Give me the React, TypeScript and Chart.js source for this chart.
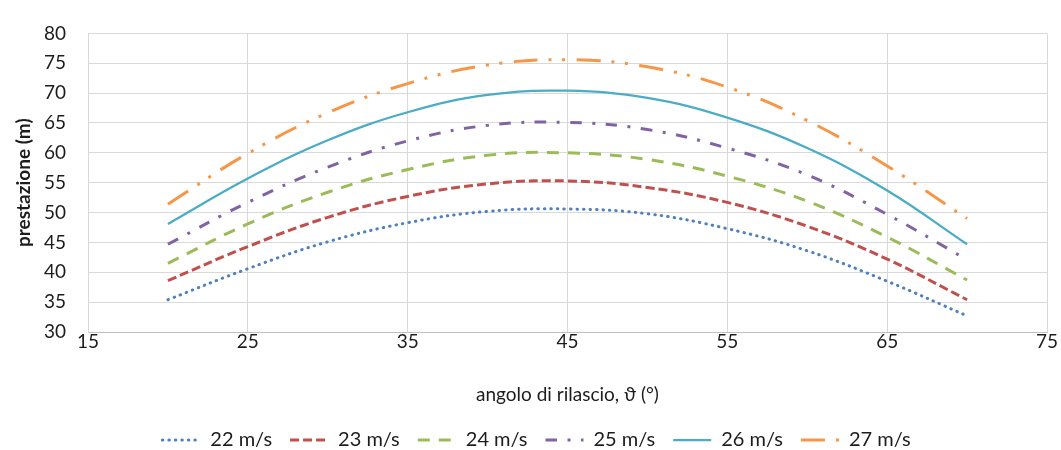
import React, { useEffect, useRef } from 'react';
import { Chart, registerables } from 'chart.js';

Chart.register(...registerables);

// Release angle (degrees)
const angles = [20, 25, 30, 35, 40, 45, 50, 55, 60, 65, 70];

// Performance (m) for each release speed
const perf22 = [35.4, 40.6, 45.1, 48.3, 50.2, 50.6, 49.8, 47.3, 43.6, 38.5, 32.7];
const perf23 = [38.6, 44.3, 49.2, 52.7, 54.8, 55.3, 54.2, 51.7, 47.7, 42.2, 35.4];
const perf24 = [41.5, 48.1, 53.4, 57.2, 59.6, 60.0, 58.9, 56.1, 51.9, 45.9, 38.7];
const perf25 = [44.7, 51.7, 57.6, 62.0, 64.6, 65.1, 63.9, 60.8, 56.3, 49.7, 42.1];
const perf26 = [48.1, 55.7, 62.1, 66.8, 69.7, 70.4, 69.2, 65.9, 60.8, 53.7, 44.7];
const perf27 = [51.4, 59.9, 66.7, 71.6, 74.7, 75.6, 74.4, 71.0, 65.4, 57.8, 49.0];

const seriesLabels = ['22 m/s', '23 m/s', '24 m/s', '25 m/s', '26 m/s', '27 m/s'];
const seriesValues = [perf22, perf23, perf24, perf25, perf26, perf27];

const xTicks = [15, 25, 35, 45, 55, 65, 75];
const yTicks = [30, 35, 40, 45, 50, 55, 60, 65, 70, 75, 80];

const xTitle = 'angolo di rilascio, \u03D1 (\u00B0)';
const yTitle = 'prestazione (m)';

// Styles
const colors = ['#4F81BD', '#C0504D', '#9BBB59', '#8064A2', '#4BACC6', '#F79646'];
const widths = [3, 3, 3, 3, 2.25, 3];
const dashes: number[][] = [
  [0.5, 6],
  [9, 4],
  [12, 9],
  [11.5, 10.5, 3, 10.5],
  [],
  [24, 11, 3, 10.5, 3, 11.5],
];
const caps = ['round', 'butt', 'butt', 'butt', 'butt', 'butt'];

const FONT = 'Lato, "Noto Sans", "DejaVu Sans", sans-serif';
const TEXT = '#1c1c1c';
const GRID = '#D9D9D9';

const legendShift = {
  id: 'legendShift',
  afterLayout(chart: any) {
    const l = chart.legend;
    if (!l) return;
    l.top += 10;
    l.bottom += 10;
    l.left += 13;
    l.right += 13;
  },
};

export default function App() {
  const ref = useRef<HTMLCanvasElement | null>(null);

  useEffect(() => {
    if (!ref.current) return;
    const datasets = seriesLabels.map((label, i) => ({
      label,
      data: angles.map((a, j) => ({ x: a, y: seriesValues[i][j] })),
      borderColor: colors[i],
      backgroundColor: colors[i],
      borderWidth: widths[i],
      borderDash: dashes[i],
      borderCapStyle: caps[i],
      pointRadius: 0,
      pointHoverRadius: 0,
      tension: 0.4,
      fill: false,
    }));

    const chart = new Chart(ref.current, {
      type: 'line',
      data: { datasets },
      plugins: [legendShift],
      options: {
        animation: false,
        responsive: true,
        maintainAspectRatio: false,
        layout: { padding: { top: 21, right: 14, bottom: 0, left: 0 } },
        font: { family: FONT },
        plugins: {
          tooltip: { enabled: false },
          legend: {
            position: 'bottom',
            labels: {
              usePointStyle: true,
              pointStyleWidth: 38,
              padding: 18,
              color: TEXT,
              font: { family: FONT, size: 20 },
              generateLabels: (ch: any) =>
                ch.data.datasets.map((ds: any, i: number) => ({
                  text: ds.label,
                  fillStyle: 'rgba(0,0,0,0)',
                  strokeStyle: colors[i],
                  lineWidth: widths[i],
                  lineDash: dashes[i],
                  lineCap: caps[i],
                  pointStyle: 'line',
                  rotation: 180,
                  fontColor: TEXT,
                  hidden: false,
                  datasetIndex: i,
                })),
            },
          },
        },
        scales: {
          x: {
            type: 'linear',
            min: 15,
            max: 75,
            afterBuildTicks: (s: any) => {
              s.ticks = xTicks.map((v) => ({ value: v }));
            },
            afterFit: (s: any) => {
              s.height = 70;
            },
            grid: { color: GRID, lineWidth: 1, drawTicks: false },
            border: { display: true, color: '#BFBFBF', width: 1 },
            ticks: {
              padding: -2,
              color: TEXT,
              font: { family: FONT, size: 19 },
              maxRotation: 0,
            },
            title: {
              display: true,
              text: xTitle,
              color: TEXT,
              font: { family: FONT, size: 19 },
              padding: { top: 0, bottom: -4 },
            },
          },
          y: {
            type: 'linear',
            min: 30,
            max: 80,
            afterBuildTicks: (s: any) => {
              s.ticks = yTicks.map((v) => ({ value: v }));
            },
            afterFit: (s: any) => {
              s.width = 88;
            },
            grid: { color: GRID, lineWidth: 1, drawTicks: false },
            border: { display: true, color: GRID, width: 1 },
            ticks: {
              padding: 22,
              color: TEXT,
              font: { family: FONT, size: 19 },
            },
            title: {
              display: true,
              text: yTitle,
              color: TEXT,
              font: { family: FONT, size: 19, weight: 'bold' },
              padding: { top: 12, bottom: 0 },
            },
          },
        },
      },
    } as any);

    return () => chart.destroy();
  }, []);

  return (
    <div
      style={{
        position: 'absolute',
        left: 0,
        top: 0,
        width: 1061,
        height: 450,
        background: '#ffffff',
      }}
    >
      <canvas ref={ref} />
    </div>
  );
}
